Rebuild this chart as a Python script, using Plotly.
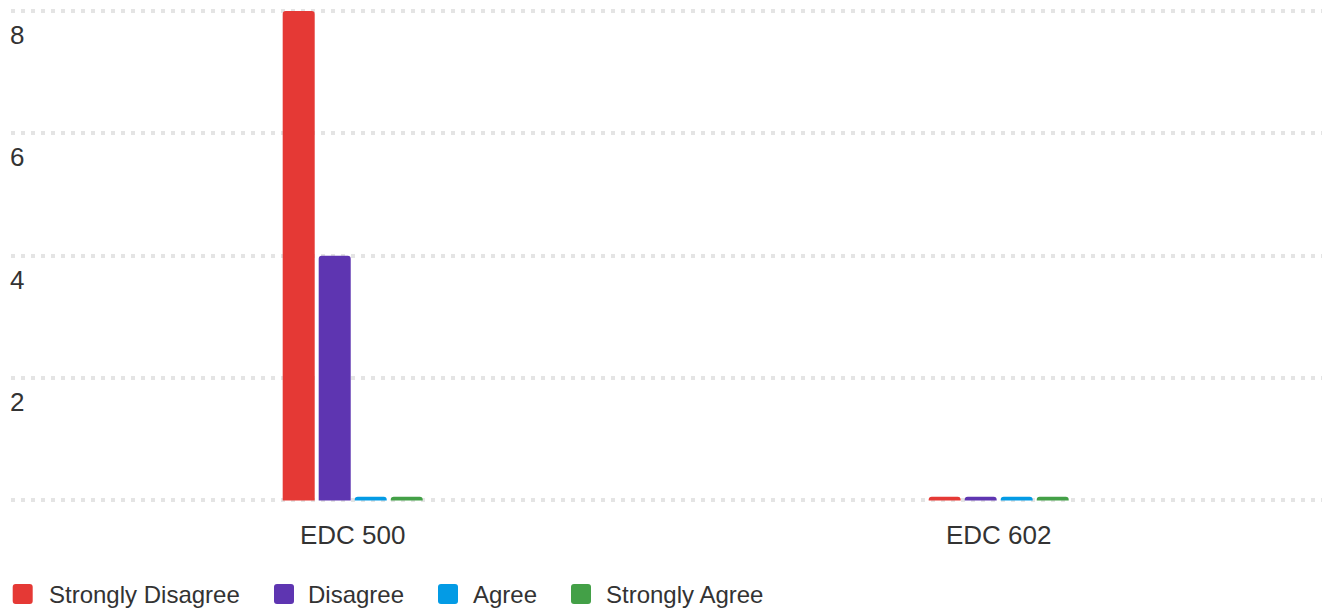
import plotly.graph_objects as go

# Survey responses per course
courses = ["EDC 500", "EDC 602"]
strongly_disagree = [8, 0]
disagree = [4, 0]
agree = [0, 0]
strongly_agree = [0, 0]

series_names = ["Strongly Disagree", "Disagree", "Agree", "Strongly Agree"]
series_values = [strongly_disagree, disagree, agree, strongly_agree]
series_colors = ["#E53935", "#5E35B1", "#039BE5", "#43A047"]

y_ticks = [0, 2, 4, 6, 8]

# zero answers still get a thin sliver so every response option is visible
MIN_VISIBLE = 0.06

FONT = "Liberation Sans, Arial, sans-serif"
TEXT = "#333333"

W, H = 1325, 611
ML, MR, MT, MB = 11, 3, 0, 108

fig = go.Figure()
for name, vals, color in zip(series_names, series_values, series_colors):
    fig.add_trace(go.Bar(
        x=courses,
        y=[max(v, MIN_VISIBLE) for v in vals],
        name=name,
        marker=dict(color=color, line=dict(width=0), cornerradius=3),
        customdata=vals,
        hovertemplate="%{x}<br>" + name + ": %{customdata}<extra></extra>",
        showlegend=False,
    ))

fig.update_layout(
    width=W, height=H,
    margin=dict(l=ML, r=MR, t=MT, b=MB, pad=0),
    paper_bgcolor="white",
    plot_bgcolor="white",
    barmode="group",
    bargap=0.777,
    bargroupgap=0.111,
    font=dict(family=FONT, color=TEXT, size=26),
    xaxis=dict(
        type="category",
        range=[-0.529, 1.5005],
        showgrid=False, zeroline=False, showline=False,
        ticks="", ticklabelstandoff=14,
        tickfont=dict(size=26, color=TEXT),
    ),
    yaxis=dict(
        range=[-0.041, 8.18],
        tickvals=y_ticks,
        ticktext=["" if t == 0 else str(t) for t in y_ticks],
        showgrid=True, gridcolor="#e4e4e4", gridwidth=4, griddash="4px,6px",
        zeroline=False, showline=False, ticks="",
        ticklabelposition="inside", ticklabelshift=24, ticklabelstandoff=-4,
        tickfont=dict(size=26, color=TEXT),
    ),
)

# Legend drawn below the plot: rounded swatches and labels, in pixels from the plot's bottom-left
legend_swatch_x = [12.7, 274, 438, 571]
legend_text_x = [47, 306, 471, 604]
legend_y = 594
sw = 20
r = 3


def rounded_square(x0, y0, s, rad):
    x1, y1 = x0 + s, y0 + s
    return (f"M{x0 + rad},{y0} L{x1 - rad},{y0} Q{x1},{y0} {x1},{y0 + rad} "
            f"L{x1},{y1 - rad} Q{x1},{y1} {x1 - rad},{y1} L{x0 + rad},{y1} "
            f"Q{x0},{y1} {x0},{y1 - rad} L{x0},{y0 + rad} Q{x0},{y0} {x0 + rad},{y0} Z")


for name, color, sx, tx in zip(series_names, series_colors, legend_swatch_x, legend_text_x):
    ox = sx - ML
    oy = (H - MB) - legend_y - sw / 2
    fig.add_shape(
        type="path", xref="paper", yref="paper",
        xsizemode="pixel", ysizemode="pixel", xanchor=0, yanchor=0,
        path=rounded_square(ox, oy, sw, r),
        fillcolor=color, line=dict(width=0),
    )
    fig.add_annotation(
        xref="paper", yref="paper", x=0, y=0,
        xshift=tx - ML, yshift=(H - MB) - legend_y,
        xanchor="left", yanchor="middle",
        text=name, showarrow=False,
        font=dict(size=24, color=TEXT, family=FONT),
    )

fig.write_html("out.html")
